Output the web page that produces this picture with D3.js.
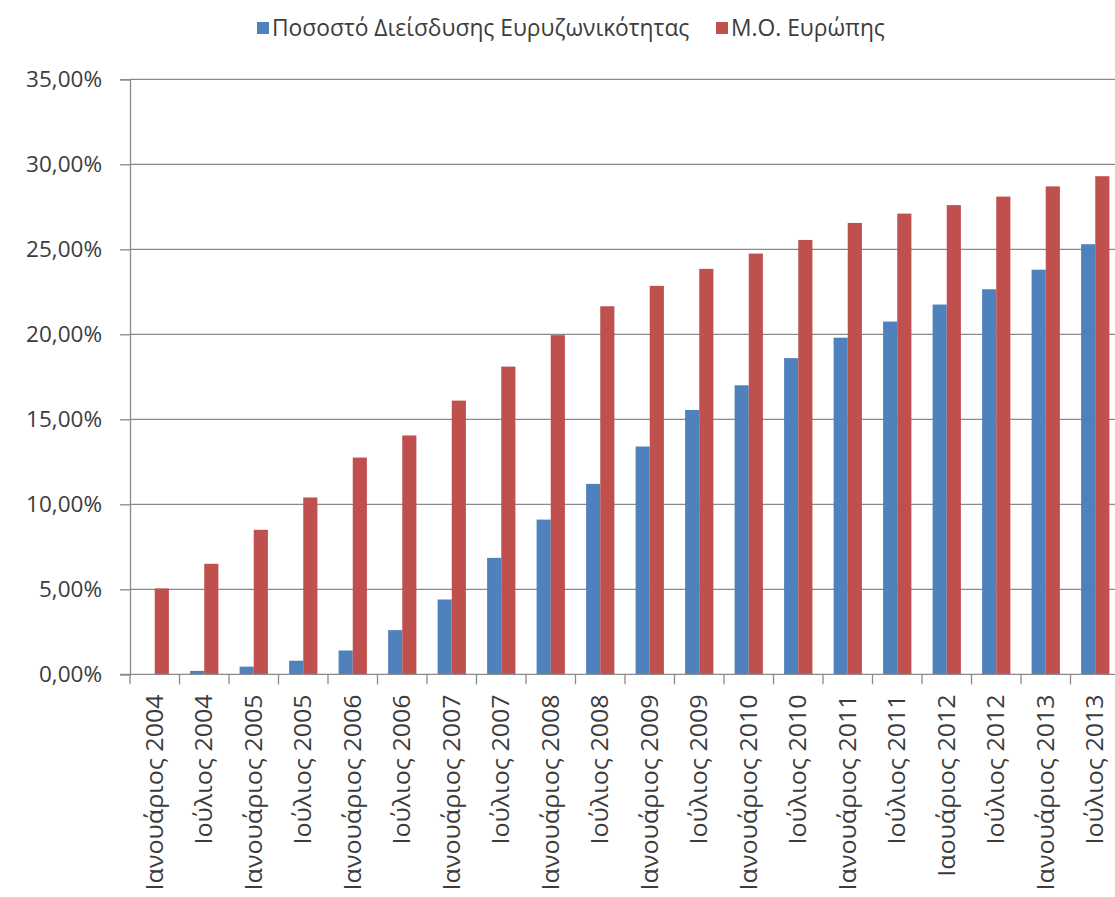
<!DOCTYPE html>
<html>
<head>
<meta charset="utf-8">
<script src="https://cdn.jsdelivr.net/npm/d3@7"></script>
<style>
  html, body { margin: 0; padding: 0; background: #fff; }
  svg { display: block; }
  text { font-family: "Open Sans", "Noto Sans", sans-serif; fill: #3c3c3c; }
</style>
</head>
<body>
<svg id="chart" width="1115" height="897"></svg>
<script>
// Half-year periods
const categories = [
  "Ιανουάριος 2004", "Ιούλιος 2004", "Ιανουάριος 2005", "Ιούλιος 2005",
  "Ιανουάριος 2006", "Ιούλιος 2006", "Ιανουάριος 2007", "Ιούλιος 2007",
  "Ιανουάριος 2008", "Ιούλιος 2008", "Ιανουάριος 2009", "Ιούλιος 2009",
  "Ιανουάριος 2010", "Ιούλιος 2010", "Ιανουάριος 2011", "Ιούλιος 2011",
  "Ιαουάριος 2012", "Ιούλιος 2012", "Ιανουάριος 2013", "Ιούλιος 2013"
];

// Broadband penetration (%), Greece
const penetration = [0, 0.2, 0.45, 0.8, 1.4, 2.6, 4.4, 6.85, 9.1, 11.2,
  13.4, 15.55, 17.0, 18.6, 19.8, 20.75, 21.75, 22.65, 23.8, 25.3];

// European average (%)
const europeAvg = [5.05, 6.5, 8.5, 10.4, 12.75, 14.05, 16.1, 18.1, 19.95, 21.65,
  22.85, 23.85, 24.75, 25.55, 26.55, 27.1, 27.6, 28.1, 28.7, 29.3];

const seriesNames = ["Ποσοστό Διείσδυσης Ευρυζωνικότητας", "Μ.Ο. Ευρώπης"];
const seriesColors = ["#4f81bd", "#c0504d"];

const yTicks = [0, 0.05, 0.10, 0.15, 0.20, 0.25, 0.30, 0.35];

const series = [penetration, europeAvg];

const svg = d3.select("#chart");
const plot = { left: 130, right: 1120, top: 79.3, bottom: 674.3 };
const axisColor = "#8a8a8a";

const greek = d3.formatLocale({ decimal: ",", thousands: ".", grouping: [3], currency: ["", "€"], percent: "%" });
const fmt = greek.format(".2%");

const y = d3.scaleLinear().domain([0, 0.35]).range([plot.bottom, plot.top]);
const x = d3.scaleBand().domain(categories).range([plot.left, plot.right]).paddingInner(0).paddingOuter(0);
const barW = x.bandwidth() / 3.5;
const xs = d3.scaleOrdinal().domain([0, 1]).range([0.75 * barW, 1.75 * barW]);

// Horizontal gridlines
svg.append("g")
  .selectAll("line")
  .data(yTicks.slice(1))
  .join("line")
  .attr("x1", plot.left).attr("x2", 1115)
  .attr("y1", d => y(d)).attr("y2", d => y(d))
  .attr("stroke", axisColor).attr("stroke-width", 1.3);

// Bars
series.forEach((vals, si) => {
  svg.append("g")
    .selectAll("rect")
    .data(vals.map((v, i) => ({ cat: categories[i], v: v / 100 })))
    .join("rect")
    .attr("x", d => x(d.cat) + xs(si))
    .attr("width", barW)
    .attr("y", d => y(d.v))
    .attr("height", d => y(0) - y(d.v))
    .attr("fill", seriesColors[si]);
});

// Y axis
const yAxis = d3.axisLeft(y).tickValues(yTicks).tickFormat(fmt).tickSize(10).tickPadding(18);
const gy = svg.append("g").attr("transform", `translate(${plot.left},0)`).call(yAxis);
gy.select(".domain").attr("stroke", axisColor).attr("stroke-width", 1.3);
gy.selectAll(".tick line").attr("stroke", axisColor).attr("stroke-width", 1.3);
gy.selectAll(".tick text").attr("font-size", 22.5).attr("fill", "#3c3c3c")
  .style("font-family", "\"Open Sans\", sans-serif");

// X axis line and boundary ticks
svg.append("line")
  .attr("x1", plot.left - 10).attr("x2", 1115)
  .attr("y1", y(0)).attr("y2", y(0))
  .attr("stroke", axisColor).attr("stroke-width", 1.3);
svg.append("g")
  .selectAll("line")
  .data(categories)
  .join("line")
  .attr("x1", d => x(d)).attr("x2", d => x(d))
  .attr("y1", y(0)).attr("y2", y(0) + 10)
  .attr("stroke", axisColor).attr("stroke-width", 1.3);

// X labels (rotated, slightly stretched along the reading direction)
const xAxis = d3.axisBottom(x).tickSize(0).tickPadding(0);
const gx = svg.append("g").attr("transform", `translate(0,${y(0)})`).call(xAxis);
gx.select(".domain").remove();
gx.selectAll(".tick text")
  .attr("font-size", 23)
  .attr("fill", "#3c3c3c")
  .style("font-family", "\"Open Sans\", sans-serif")
  .attr("text-anchor", "end")
  .attr("dy", "0.35em")
  .attr("y", 0)
  .attr("transform", "translate(0,20) rotate(-90) scale(1.09,1)");

// Legend
const legendItems = [
  { name: seriesNames[0], color: seriesColors[0], x: 257 },
  { name: seriesNames[1], color: seriesColors[1], x: 716 }
];
const lg = svg.append("g");
legendItems.forEach(it => {
  lg.append("rect").attr("x", it.x).attr("y", 22).attr("width", 12).attr("height", 12).attr("fill", it.color);
  lg.append("text").attr("x", it.x + 15).attr("y", 36).attr("font-size", 22.8).text(it.name);
});
</script>
</body>
</html>
